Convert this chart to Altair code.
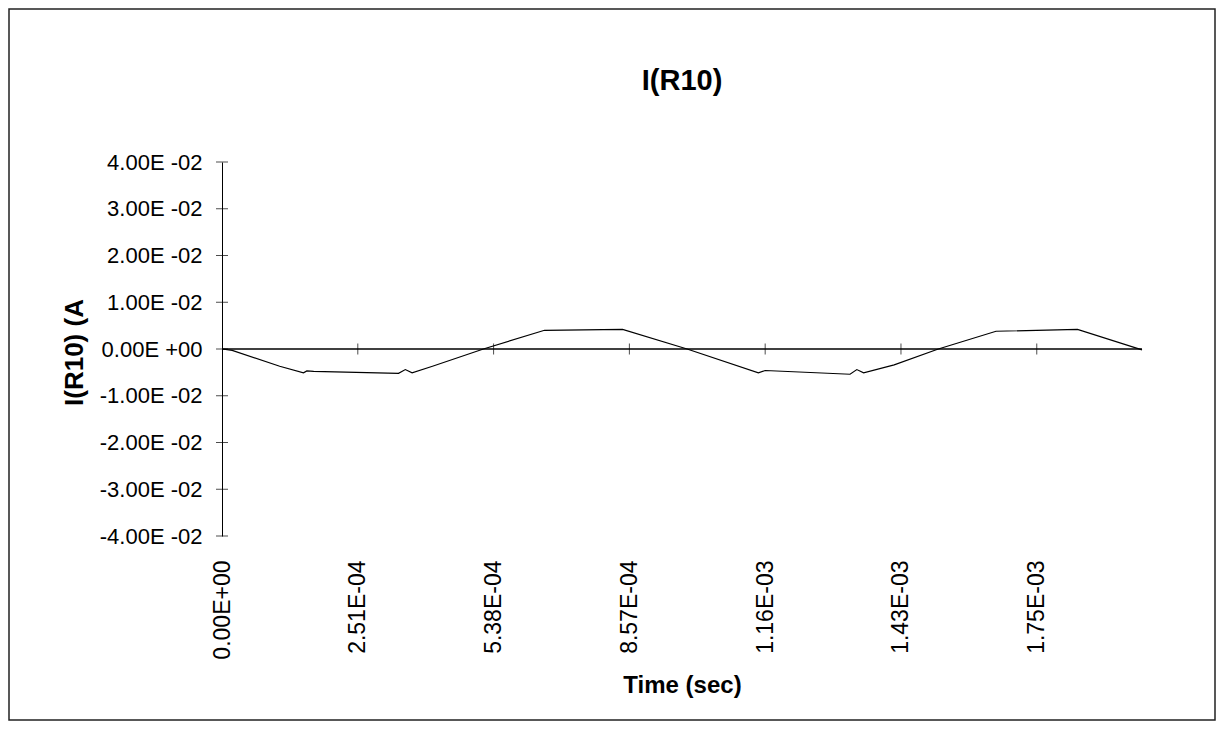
import altair as alt
import pandas as pd

title_text = "I(R10)"
x_title = "Time (sec)"
y_title = "I(R10) (A"

# category position of each plotted sample (Excel category axis) and I(R10) in A
point_index = [0, 3, 17, 24, 25, 27, 52, 54, 56, 62, 77, 95, 118, 137,
               158, 160, 185, 187, 189, 198, 211, 228, 252, 271]
current = [0.0, -0.0003, -0.0037, -0.0051, -0.0047, -0.0048, -0.0052, -0.0044,
           -0.0051, -0.0037, 0.0, 0.0040, 0.0042, 0.0, -0.0051, -0.0046,
           -0.0054, -0.0044, -0.0051, -0.0034, 0.0, 0.0038, 0.0042, -0.0002]

label_index = [0, 40, 80, 120, 160, 200, 240]
time_labels = ["0.00E+00", "2.51E-04", "5.38E-04", "8.57E-04",
               "1.16E-03", "1.43E-03", "1.75E-03"]
y_ticks = [-0.04, -0.03, -0.02, -0.01, 0.0, 0.01, 0.02, 0.03, 0.04]
y_labels = ["-4.00E -02", "-3.00E -02", "-2.00E -02", "-1.00E -02", "0.00E +00",
            "1.00E -02", "2.00E -02", "3.00E -02", "4.00E -02"]

FONT = "Liberation Sans"
W, H = 920, 374

df = pd.DataFrame({"idx": point_index, "val": current})
xtick_df = pd.DataFrame({"idx": label_index[1:], "val": [0.0] * (len(label_index) - 1)})
ytick_df = pd.DataFrame({"idx": [0] * len(y_ticks), "val": y_ticks})
zero_df = pd.DataFrame({"idx": [0], "val": [0.0]})

xscale = alt.Scale(domain=[0, 271], nice=False, zero=False)
yscale = alt.Scale(domain=[-0.04, 0.04], nice=False)

x_label_expr = "[" + ",".join("'%s'" % s for s in time_labels) + "][round(datum.value/40)]"
y_label_expr = "[" + ",".join("'%s'" % s for s in y_labels) + "][round(datum.value*100)+4]"

x_axis = alt.Axis(
    values=label_index, labelExpr=x_label_expr, title=x_title,
    domain=False, ticks=False, tickSize=0, grid=False,
    labelAngle=270, labelAlign="right", labelBaseline="middle",
    labelPadding=24, labelFont=FONT, labelFontSize=23, labelColor="black",
    labelOverlap=False, labelFlush=False,
    titleFont=FONT, titleFontSize=24, titleFontWeight="bold", titleColor="black",
    titleY=156, titleBaseline="alphabetic")
y_axis = alt.Axis(
    values=y_ticks, labelExpr=y_label_expr, title=y_title,
    domain=True, domainColor="black", domainWidth=1,
    ticks=False, tickSize=0, grid=False,
    labelPadding=20, labelFont=FONT, labelFontSize=22, labelColor="black",
    labelOverlap=False, labelFlush=False,
    titleFont=FONT, titleFontSize=26, titleFontWeight="bold", titleColor="black",
    titleAngle=270, titleX=-140, titleY=190, titleAlign="center",
    titleBaseline="alphabetic")

X = alt.X("idx:Q", scale=xscale, axis=x_axis)
Y = alt.Y("val:Q", scale=yscale, axis=y_axis)

line = alt.Chart(df).mark_line(color="black", strokeWidth=1.2).encode(x=X, y=Y)

zero_line = alt.Chart(zero_df).mark_rule(color="black", strokeWidth=1.3).encode(y=Y)

xticks = alt.Chart(xtick_df).mark_tick(orient="vertical", size=11, thickness=1, color="black").encode(x=X, y=Y)

yticks = alt.Chart(ytick_df).mark_tick(orient="horizontal", size=12, thickness=1, color="black").encode(x=X, y=Y)

frame = alt.Chart(zero_df).mark_rect(filled=False, stroke="#222222", strokeWidth=1.5).encode(
    x=alt.value(-213), x2=alt.value(993), y=alt.value(-153), y2=alt.value(558)
)

chart = alt.layer(line, zero_line, xticks, yticks, frame).properties(
    width=W, height=H,
    title=alt.TitleParams(title_text, font=FONT, fontSize=29, fontWeight="bold",
                          color="black", anchor="middle", frame="group", offset=0, dy=88),
    autosize=alt.AutoSizeParams(type="none"),
    padding={"left": 214, "top": 154, "right": 74, "bottom": 186},
).configure_view(strokeWidth=0)

chart.save("out.html", embed_options={"renderer": "svg", "actions": False})
